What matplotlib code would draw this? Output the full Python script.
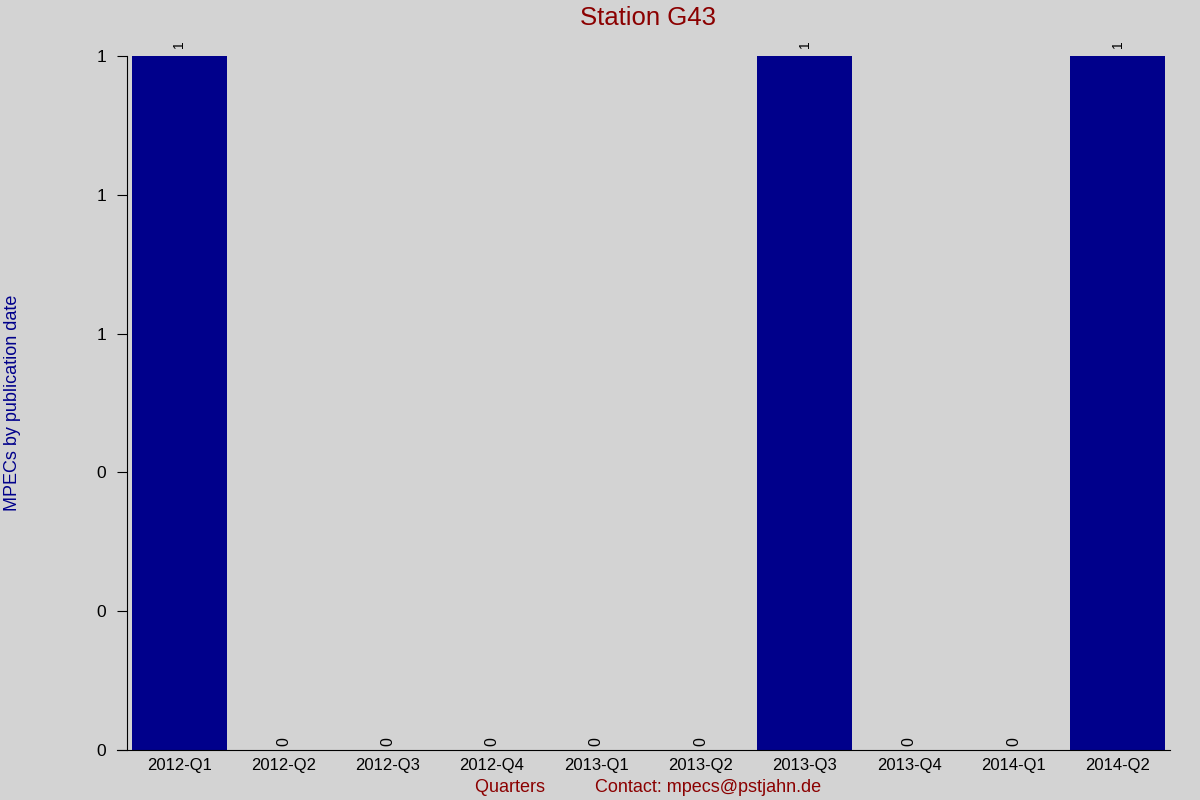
import matplotlib
matplotlib.use("Agg")
import matplotlib.pyplot as plt
import numpy as np

plt.rcParams['font.family'] = ['Liberation Sans', 'DejaVu Sans']

quarters = ['2012-Q1', '2012-Q2', '2012-Q3', '2012-Q4', '2013-Q1',
            '2013-Q2', '2013-Q3', '2013-Q4', '2014-Q1', '2014-Q2']
mpecs = [1, 0, 0, 0, 0, 0, 1, 0, 0, 1]
yticks = [0, 0.2, 0.4, 0.6, 0.8, 1.0]

bg = '#d3d3d3'
fig = plt.figure(figsize=(12, 8), dpi=100, facecolor=bg)
ax = fig.add_axes([127/1200, 50/800, (1170-127)/1200, (750-56)/800])
ax.set_facecolor(bg)

x = np.arange(len(quarters))
ax.bar(x, mpecs, width=0.91, color='#00008b')
ax.set_xlim(-0.5, len(quarters) - 0.5)
ax.set_ylim(0, max(mpecs))

for xi, v in zip(x, mpecs):
    if v > 0:
        ax.annotate(str(v), (xi, v), xytext=(0, 6), textcoords='offset points',
                    rotation=90, ha='center', va='bottom', fontsize=10,
                    annotation_clip=False)
    else:
        ax.annotate(str(v), (xi, 0), xytext=(0, 3), textcoords='offset points',
                    rotation=90, ha='center', va='bottom', fontsize=11.5)

ax.set_xticks(x)
ax.set_xticklabels(quarters, fontsize=12)
ax.set_yticks(yticks)
ax.set_yticklabels(['%d' % round(t) for t in yticks], fontsize=12.5)
ax.tick_params(axis='x', length=0, pad=6)
ax.tick_params(axis='y', length=7, pad=8, direction='out')

for s in ['top', 'right']:
    ax.spines[s].set_visible(False)
ax.spines['bottom'].set_bounds(-0.6, len(quarters) - 0.5)

ax.set_title('Station G43', color='#8b0000', fontsize=18.5, pad=22)
ax.set_xlabel('Quarters          Contact: mpecs@pstjahn.de', color='#8b0000',
              fontsize=13, labelpad=4)
ax.set_ylabel('MPECs by publication date', color='#00008b', fontsize=13,
              labelpad=54)

fig.savefig('out.png', dpi=100, facecolor=bg)
